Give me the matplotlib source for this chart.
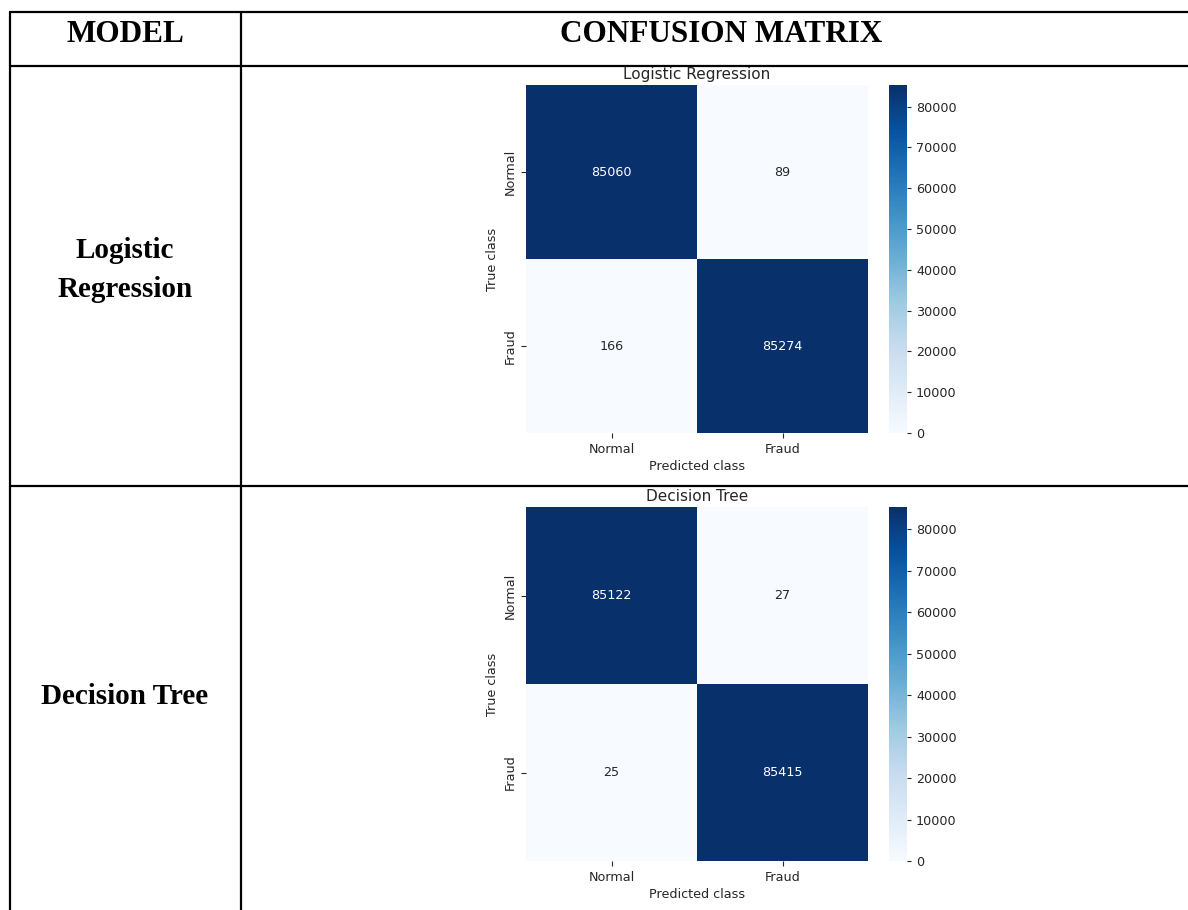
import numpy as np
import matplotlib
matplotlib.use("Agg")
import matplotlib.pyplot as plt
import seaborn as sns

# ---- data ----
models = ["Logistic Regression", "Decision Tree"]
model_labels = ["Logistic\nRegression", "Decision Tree"]
class_labels = ["Normal", "Fraud"]
cm_logreg = [[85060, 89], [166, 85274]]
cm_tree = [[85122, 27], [25, 85415]]
matrices = [cm_logreg, cm_tree]
header_model = "MODEL"
header_cm = "CONFUSION MATRIX"

W, H = 1188, 910
fig = plt.figure(figsize=(W / 100, H / 100), dpi=100)
fig.patch.set_facecolor("white")

# table overlay axes in pixel coordinates
tab = fig.add_axes([0, 0, 1, 1])
tab.set_xlim(0, W)
tab.set_ylim(H, 0)
tab.axis("off")
lw = 1.6
for y in (12, 66, 486):
    tab.plot([9, W], [y, y], color="black", lw=lw, solid_capstyle="butt")
for x in (9.5, 241):
    tab.plot([x, x], [12, H], color="black", lw=lw, solid_capstyle="butt")

serif = "Liberation Serif"
tab.text(125, 42, header_model, ha="center", va="baseline", fontsize=22.5,
         fontweight="bold", family=serif)
tab.text(721, 42, header_cm, ha="center", va="baseline", fontsize=22.5,
         fontweight="bold", family=serif)
tab.text(125, 258, model_labels[0].split("\n")[0], ha="center", va="baseline",
         fontsize=21, fontweight="bold", family=serif)
tab.text(125, 297, model_labels[0].split("\n")[1], ha="center", va="baseline",
         fontsize=21, fontweight="bold", family=serif)
tab.text(125, 704, model_labels[1], ha="center", va="baseline",
         fontsize=21, fontweight="bold", family=serif)

# heatmap panels: (top px, bottom px)
panels = [(85, 433), (507, 861)]
hx0, hx1 = 526, 868
cx0, cx1 = 889, 907
txt = "#262626"

for (top, bot), name, cm in zip(panels, models, matrices):
    ax = fig.add_axes([hx0 / W, 1 - bot / H, (hx1 - hx0) / W, (bot - top) / H])
    cax = fig.add_axes([cx0 / W, 1 - bot / H, (cx1 - cx0) / W, (bot - top) / H])
    arr = np.array(cm)
    sns.heatmap(arr, annot=True, fmt="d", cmap="Blues", ax=ax, cbar_ax=cax,
                vmin=0, vmax=arr.max(),
                xticklabels=class_labels, yticklabels=class_labels,
                annot_kws={"fontsize": 9.2})
    ax.set_title(name, fontsize=11, color=txt, pad=4)
    ax.set_xlabel("Predicted class", fontsize=9.2, color=txt, labelpad=3)
    ax.set_ylabel("True class", fontsize=9.2, color=txt, labelpad=3)
    ax.tick_params(axis="both", labelsize=9.2, colors=txt, length=3.5, width=0.8)
    plt.setp(ax.get_yticklabels(), rotation=90, va="center")
    cax.tick_params(labelsize=9.2, colors=txt, length=3, width=0.8)
    cax.set_yticks(np.arange(0, 80001, 10000))
    for s in cax.spines.values():
        s.set_visible(False)

fig.savefig("out.png", dpi=100, facecolor="white")
